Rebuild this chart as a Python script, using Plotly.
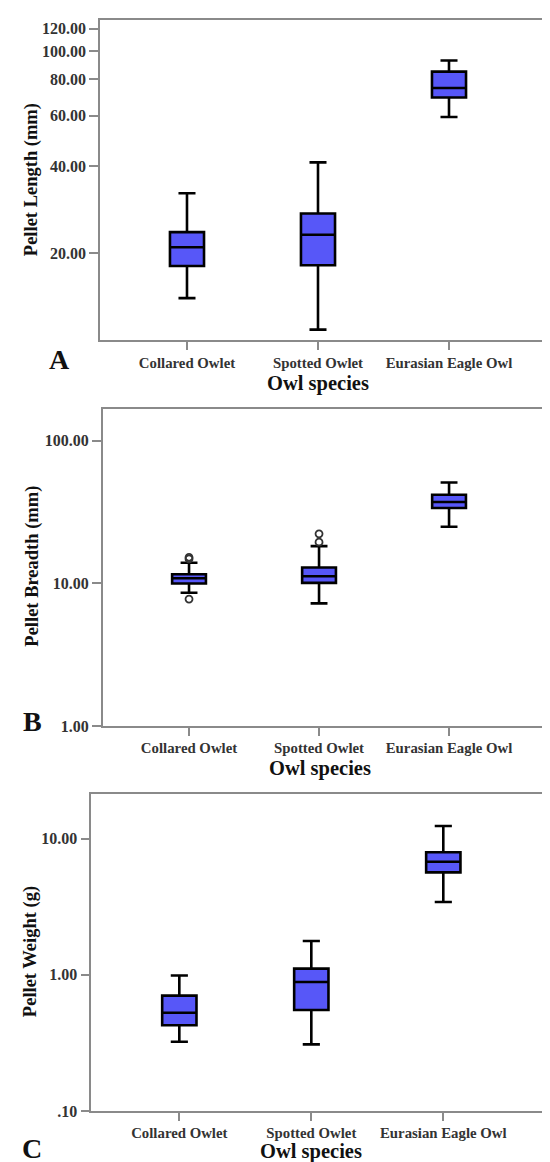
import plotly.graph_objects as go

species = ["Collared Owlet", "Spotted Owlet", "Eurasian Eagle Owl"]

# Panel A: Pellet Length (mm)
len_low = [14.0, 10.9, 59.3]
len_q1 = [18.1, 18.2, 69.3]
len_med = [21.0, 23.2, 74.7]
len_q3 = [23.7, 27.5, 85.1]
len_high = [32.3, 41.3, 93.0]

# Panel B: Pellet Breadth (mm)
br_low = [8.57, 7.22, 24.9]
br_q1 = [9.95, 10.05, 33.7]
br_med = [10.83, 11.2, 37.1]
br_q3 = [11.55, 12.9, 41.7]
br_high = [13.9, 18.2, 50.8]
br_out_x = ["Collared Owlet", "Collared Owlet", "Collared Owlet", "Spotted Owlet", "Spotted Owlet"]
br_out_y = [14.8, 15.2, 7.74, 19.4, 22.2]

# Panel C: Pellet Weight (g)
wt_low = [0.322, 0.308, 3.43]
wt_q1 = [0.426, 0.551, 5.66]
wt_med = [0.527, 0.885, 6.77]
wt_q3 = [0.703, 1.11, 7.96]
wt_high = [0.99, 1.775, 12.4]

len_ticks = [20, 40, 60, 80, 100, 120]
len_ticktext = ["20.00", "40.00", "60.00", "80.00", "100.00", "120.00"]
br_ticks = [1, 10, 100]
br_ticktext = ["1.00", "10.00", "100.00"]
wt_ticks = [0.1, 1, 10]
wt_ticktext = [".10", "1.00", "10.00"]

W, H = 550, 1162
FILL = "#5757F8"
AXC = "#8a8a8a"
SERIF = "Liberation Serif"

fig = go.Figure()

def add_box(low, q1, med, q3, high, xa, ya):
    fig.add_trace(go.Box(
        x=species, q1=q1, median=med, q3=q3, lowerfence=low, upperfence=high,
        width=0.26, whiskerwidth=0.5, fillcolor=FILL,
        line=dict(color="black", width=2.6), boxpoints=False,
        xaxis=xa, yaxis=ya, showlegend=False, hoverinfo="skip"))

add_box(len_low, len_q1, len_med, len_q3, len_high, "x", "y")
add_box(br_low, br_q1, br_med, br_q3, br_high, "x2", "y2")
fig.add_trace(go.Scatter(
    x=br_out_x, y=br_out_y, mode="markers", xaxis="x2", yaxis="y2",
    marker=dict(symbol="circle-open", size=7, color="#333333", line=dict(width=1.8)),
    showlegend=False, hoverinfo="skip"))
add_box(wt_low, wt_q1, wt_med, wt_q3, wt_high, "x3", "y3")

def py(p):
    return 1 - p / H

def xaxis(left_px, rng):
    return dict(domain=[left_px / W, 1], type="category", range=rng,
                categoryorder="array", categoryarray=species,
                showline=True, mirror=True, linecolor=AXC, linewidth=1.6,
                ticks="outside", ticklen=8, tickcolor=AXC, tickwidth=1.6,
                showgrid=False, zeroline=False, fixedrange=True,
                tickfont=dict(family=SERIF, size=14.8, color="#333333", weight="bold"))

def yaxis(top_px, bot_px, rng, tv, tt, anchor):
    return dict(domain=[py(bot_px), py(top_px)], type="log", range=rng,
                tickvals=tv, ticktext=tt, anchor=anchor,
                showline=True, mirror=False, linecolor=AXC, linewidth=1.6,
                ticks="outside", ticklen=9, tickcolor=AXC, tickwidth=1.6,
                showgrid=False, zeroline=False, fixedrange=True,
                tickfont=dict(family=SERIF, size=16, color="#333333", weight="bold"))

fig.update_layout(
    width=W, height=H, margin=dict(l=0, r=0, t=0, b=0),
    paper_bgcolor="white", plot_bgcolor="white",
    xaxis=dict(xaxis(92, [-0.664, 2.832]), anchor="y"),
    yaxis=yaxis(11.7, 335, [1.0, 2.11], len_ticks, len_ticktext, "x"),
    xaxis2=dict(xaxis(94.7, [-0.664, 2.838]), anchor="y2"),
    yaxis2=yaxis(404, 723.5, [0, 2.222], br_ticks, br_ticktext, "x2"),
    xaxis3=dict(xaxis(83.3, [-0.667, 2.869]), anchor="y3"),
    yaxis3=yaxis(792, 1111.5, [-1, 1.33], wt_ticks, wt_ticktext, "x3"),
)

def ann(text, x_px, y_px, size, angle=0):
    fig.add_annotation(text=text, xref="paper", yref="paper",
                       x=x_px / W, y=py(y_px), showarrow=False,
                       xanchor="center", yanchor="middle", textangle=angle,
                       font=dict(family=SERIF, size=size, color="#111111", weight="bold"))

ann("Pellet Length (mm)", 23, 173.5, 18.5, -90)
ann("Pellet Breadth (mm)", 25, 563, 18.5, -90)
ann("Pellet Weight (g)", 22, 951.5, 18.5, -90)
ann("Owl species", 310, 378, 20.5)
ann("Owl species", 311.7, 766.7, 20.5)
ann("Owl species", 303, 1152.7, 20.5)
ann("A", 51, 354, 28)
ann("B", 24, 719, 28)
ann("C", 24, 1149, 28)

fig.write_html("out.html")
